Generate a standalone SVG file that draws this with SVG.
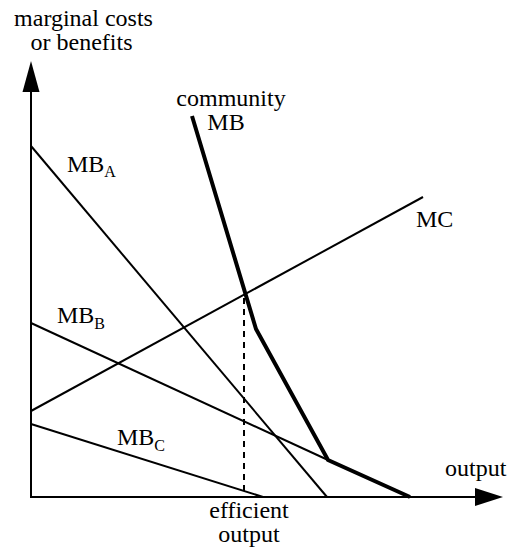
<svg xmlns="http://www.w3.org/2000/svg" width="518" height="547" viewBox="0 0 518 547">
<style>
.sub{font-size:16px}
.thin{stroke:#000;stroke-width:2;fill:none}
.thick{stroke:#000;stroke-width:4;fill:none;stroke-linejoin:miter}
.dash{stroke:#000;stroke-width:2;stroke-dasharray:6,5;fill:none}
</style>
<rect width="518" height="547" fill="#fff"/>
<g id="axes">
<line class="thin" x1="31" y1="497" x2="31" y2="90"/>
<line class="thin" x1="30" y1="497" x2="477" y2="497"/>
<polygon points="31,61 22.5,92 39.5,92" fill="#000"/>
<polygon points="503,497 475,488 475,506" fill="#000"/>
</g>
<g id="curves">
<line id="mb-a" class="thin" x1="31" y1="146" x2="327" y2="497"/>
<line id="mb-b" class="thin" x1="31" y1="323" x2="328" y2="460"/>
<line id="mb-c" class="thin" x1="31" y1="424" x2="263" y2="497"/>
<line id="mc" class="thin" x1="31" y1="411" x2="423" y2="197"/>
<polyline id="community-mb" class="thick" points="192,116 256,329 328,460 410,497"/>
<line id="efficient" class="dash" x1="244" y1="298" x2="244" y2="497"/>
</g>
<g id="labels" font-family="'Liberation Serif', 'DejaVu Serif', serif" font-size="24" fill="#000">
<text x="83.5" y="26" text-anchor="middle">marginal costs</text>
<text x="81.5" y="50" text-anchor="middle">or benefits</text>
<text x="231" y="106" text-anchor="middle">community</text>
<text x="226" y="130" text-anchor="middle">MB</text>
<text x="67" y="172">MB<tspan class="sub" dy="5">A</tspan></text>
<text x="57" y="323">MB<tspan class="sub" dy="6">B</tspan></text>
<text x="117" y="445">MB<tspan class="sub" dy="6">C</tspan></text>
<text x="416" y="227">MC</text>
<text x="445" y="476">output</text>
<text x="249" y="518" text-anchor="middle">efficient</text>
<text x="249" y="542" text-anchor="middle">output</text>
</g>
</svg>
